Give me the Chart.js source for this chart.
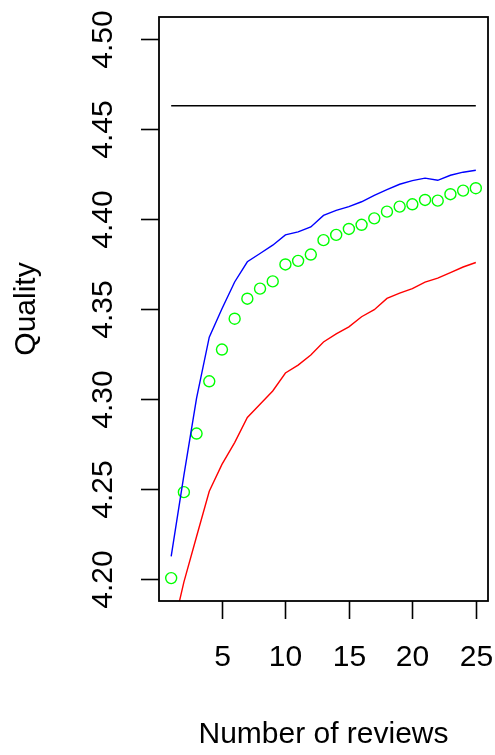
<!DOCTYPE html>
<html>
<head>
<meta charset="utf-8">
<script src="https://cdn.jsdelivr.net/npm/chart.js@4.4.1/dist/chart.umd.min.js"></script>
<style>
  html, body { margin: 0; padding: 0; background: #fff; }
  #wrap { width: 495px; height: 755px; }
</style>
</head>
<body>
<div id="wrap"><canvas id="chart" width="495" height="755"></canvas></div>
<script>
// number of reviews
const reviews = [1, 2, 3, 4, 5, 6, 7, 8, 9, 10, 11, 12, 13, 14, 15, 16, 17, 18, 19, 20, 21, 22, 23, 24, 25];

// estimated quality (green circles)
const estimate = [4.2007, 4.2484, 4.2809, 4.3099, 4.3275, 4.3446, 4.3557, 4.3613, 4.3653, 4.3747,
    4.3767, 4.3802, 4.3882, 4.3911, 4.3944, 4.3967, 4.4003, 4.4040, 4.4068, 4.4081,
    4.4105, 4.4101, 4.4137, 4.4157, 4.4170];

// upper band (blue)
const upper = [4.2127, 4.2577, 4.3006, 4.3344, 4.3501, 4.3650, 4.3762, 4.3808, 4.3854, 4.3911,
    4.3928, 4.3955, 4.4019, 4.4047, 4.4068, 4.4095, 4.4131, 4.4162, 4.4192, 4.4212,
    4.4226, 4.4214, 4.4242, 4.4259, 4.4270];

// lower band (red)
const lower = [4.1680, 4.1985, 4.2238, 4.2489, 4.2638, 4.2759, 4.2898, 4.2972, 4.3045, 4.3145,
    4.3189, 4.3245, 4.3317, 4.3362, 4.3401, 4.3457, 4.3496, 4.3559, 4.3588, 4.3613,
    4.3649, 4.3671, 4.3702, 4.3733, 4.3758];

// true quality (black horizontal line)
const trueX = [1, 25];
const trueQuality = 4.4628;

const xTicks = [5, 10, 15, 20, 25];
const yTicks = [4.20, 4.25, 4.30, 4.35, 4.40, 4.45, 4.50];

const FONT = '"Liberation Sans", Arial, sans-serif';

const pts = vals => reviews.map((x, i) => ({ x, y: vals[i] }));

// R-style box, ticks and labels
const rAxes = {
    id: "rAxes",
    afterDraw(chart) {
        const { ctx, chartArea: a, scales: { x, y } } = chart;
        ctx.save();
        ctx.strokeStyle = "#000";
        ctx.lineWidth = 1.8;
        ctx.strokeRect(a.left, a.top, a.right - a.left, a.bottom - a.top);

        ctx.lineWidth = 1.6;
        ctx.fillStyle = "#000";
        ctx.font = "30px " + FONT;

        // x ticks
        ctx.textAlign = "center";
        ctx.textBaseline = "middle";
        xTicks.forEach(t => {
            const px = Math.round(x.getPixelForValue(t)) + 0.5;
            ctx.beginPath();
            ctx.moveTo(px, a.bottom);
            ctx.lineTo(px, a.bottom + 18);
            ctx.stroke();
            ctx.fillText(String(t), px, 658);
        });

        // y ticks, rotated labels
        yTicks.forEach(t => {
            const py = Math.round(y.getPixelForValue(t)) + 0.5;
            ctx.beginPath();
            ctx.moveTo(a.left, py);
            ctx.lineTo(a.left - 18, py);
            ctx.stroke();
            ctx.save();
            ctx.translate(104, py);
            ctx.rotate(-Math.PI / 2);
            ctx.fillText(t.toFixed(2), 0, 0);
            ctx.restore();
        });

        // titles
        ctx.fillText("Number of reviews", (a.left + a.right) / 2, 735);
        ctx.save();
        ctx.translate(27, (a.top + a.bottom) / 2);
        ctx.rotate(-Math.PI / 2);
        ctx.fillText("Quality", 0, 0);
        ctx.restore();
        ctx.restore();
    },
};

new Chart(document.getElementById("chart"), {
    type: "scatter",
    data: {
        datasets: [
            {
                label: "True",
                data: trueX.map(x => ({ x, y: trueQuality })),
                showLine: true,
                borderColor: "#000",
                borderWidth: 1.4,
                pointRadius: 0,
            },
            {
                label: "Upper",
                data: pts(upper),
                showLine: true,
                borderColor: "#0000ff",
                borderWidth: 1.4,
                pointRadius: 0,
            },
            {
                label: "Lower",
                data: pts(lower),
                showLine: true,
                borderColor: "#ff0000",
                borderWidth: 1.4,
                pointRadius: 0,
            },
            {
                label: "Estimate",
                data: pts(estimate),
                showLine: false,
                borderColor: "#00ff00",
                backgroundColor: "rgba(0,0,0,0)",
                borderWidth: 1.4,
                pointRadius: 5.5,
                pointStyle: "circle",
            },
        ],
    },
    options: {
        responsive: false,
        animation: false,
        layout: { padding: { left: 159, top: 17, right: 7, bottom: 154 } },
        plugins: {
            legend: { display: false },
            tooltip: { enabled: false },
        },
        scales: {
            x: { type: "linear", min: 0.04, max: 25.96, display: false },
            y: { type: "linear", min: 4.188, max: 4.512, display: false },
        },
    },
    plugins: [rAxes],
});
</script>
</body>
</html>
